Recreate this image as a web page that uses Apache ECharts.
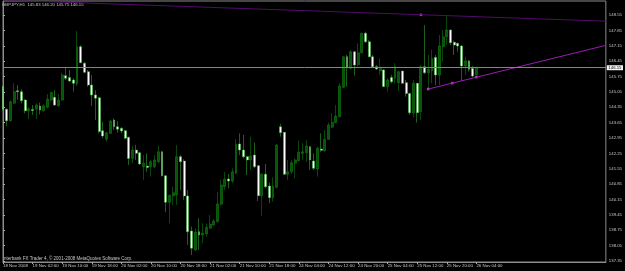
<!DOCTYPE html>
<html><head><meta charset="utf-8">
<script src="https://cdn.jsdelivr.net/npm/echarts@6/dist/echarts.min.js"></script>
<style>html,body{margin:0;padding:0;background:#000;}#c{width:625px;height:271px;}</style>
</head><body><div id="c"></div>
<script>
const symbolName = 'GBPJPY,H1';
const opens = [145.29,144.26,143.74,144.53,145.10,145.06,144.68,144.19,144.25,144.26,
144.41,144.19,144.35,144.68,144.80,144.42,144.68,145.79,145.70,145.59,
145.41,147.11,146.35,145.97,145.36,144.91,144.78,143.28,142.89,143.16,
143.77,143.46,143.39,143.28,142.98,142.02,142.40,142.28,141.64,141.67,
141.64,141.64,141.87,142.32,141.23,140.02,140.31,140.35,142.10,141.90,
140.31,138.71,137.85,138.68,138.53,138.58,138.84,138.99,139.14,139.93,
140.73,141.08,140.99,141.34,142.68,142.40,142.10,141.95,142.17,141.69,
140.32,141.30,140.76,140.23,140.70,143.46,143.21,141.30,141.41,141.80,
141.92,142.25,142.28,142.55,141.90,141.54,142.45,142.37,142.89,143.44,
143.65,143.92,145.26,146.65,146.12,146.88,146.30,146.83,147.72,147.33,
146.65,146.20,146.00,146.05,145.29,145.71,145.67,145.47,146.00,145.47,
144.98,144.10,145.44,144.15,146.20,145.92,146.01,146.62,145.82,147.11,
147.56,147.87,147.31,147.26,147.14,146.23,146.46,146.12,145.83];
const highs = [145.32,144.29,144.66,145.44,145.36,145.17,144.72,144.35,144.45,144.53,
144.56,144.48,144.95,145.06,145.13,144.95,145.91,146.20,146.05,145.67,
147.82,147.18,146.42,146.05,145.82,145.13,144.82,143.69,143.22,143.77,
143.85,143.72,143.44,143.31,143.01,142.58,142.63,142.31,142.17,142.25,
141.95,142.17,142.60,142.36,141.26,140.38,140.73,142.63,142.17,141.98,
140.58,138.91,138.84,139.29,139.06,139.06,139.44,139.25,140.48,141.04,
141.41,141.31,141.57,142.90,143.16,143.09,142.13,143.01,142.74,141.72,
141.34,141.77,140.91,141.16,142.68,143.59,143.22,141.95,141.95,142.02,
142.83,142.71,142.86,142.58,142.25,142.55,143.16,143.31,143.65,144.07,
144.45,145.44,146.68,146.73,146.96,146.92,147.26,147.74,147.79,147.41,
146.73,146.27,146.58,146.08,145.67,145.82,146.35,146.01,146.01,145.59,
145.01,145.59,145.45,146.27,148.09,146.73,146.96,146.73,147.64,147.87,
148.55,147.90,147.38,147.29,147.18,146.65,146.50,146.23,146.20];
const lows = [144.20,143.50,143.70,144.50,144.68,144.53,144.07,143.80,144.00,143.81,
144.03,144.15,144.30,144.60,144.41,144.37,144.65,145.59,145.51,145.06,
145.32,146.35,145.90,145.29,144.41,143.77,143.16,142.94,142.78,143.13,
143.31,143.19,143.16,142.90,141.72,141.80,141.95,141.72,141.04,141.41,
141.19,141.57,141.80,141.19,139.57,139.06,139.90,139.90,140.58,140.13,
138.08,137.62,137.80,137.85,138.15,138.45,138.79,138.94,139.09,139.87,
140.58,140.66,140.89,141.31,142.17,142.02,141.26,141.49,141.57,140.08,
139.41,140.66,139.98,140.05,140.66,143.01,141.26,141.04,141.31,141.11,
141.87,141.95,141.87,141.49,141.49,141.19,142.32,142.32,142.86,143.39,
143.62,143.89,145.21,145.29,146.09,145.79,146.20,146.81,147.29,146.62,
146.17,146.05,145.82,145.26,145.06,145.44,145.44,145.10,145.41,144.83,
144.00,143.89,143.65,143.77,145.86,145.18,145.44,145.36,145.36,146.42,
147.18,147.18,146.73,146.88,145.54,145.82,145.97,145.71,145.75];
const closes = [144.26,143.74,144.60,145.06,145.06,144.65,144.19,144.28,144.20,144.45,
144.22,144.41,144.72,145.02,144.45,144.68,145.82,145.67,145.54,145.44,
147.11,146.38,145.94,145.36,144.91,144.76,143.24,143.04,143.19,143.72,
143.46,143.35,143.27,142.94,142.02,142.40,142.25,141.77,141.80,141.61,
141.87,141.95,142.32,141.23,140.02,140.33,140.46,142.10,141.87,140.31,
138.68,137.93,138.65,138.53,138.61,138.88,139.03,139.17,139.94,140.81,
141.07,140.99,141.41,142.66,142.40,142.10,141.95,142.13,141.64,140.32,
141.30,140.73,140.23,140.76,142.63,143.19,141.30,141.41,141.82,141.95,
142.30,142.32,142.58,141.95,141.57,142.48,142.39,142.89,143.54,143.66,
143.95,145.32,146.65,146.15,146.88,146.27,146.83,147.72,147.33,146.65,
146.20,146.09,146.12,145.29,145.59,145.51,146.20,145.97,145.44,144.98,
144.10,145.44,144.10,146.20,145.92,146.08,146.58,145.82,147.14,147.56,
147.87,147.29,147.18,147.14,146.23,146.46,146.08,145.77,146.15];
const futureBars = 35;
const labelStep = 8;
const timeLabels = ['18 Nov 2008','19 Nov 02:00','19 Nov 10:00','19 Nov 18:00','20 Nov 02:00','20 Nov 10:00','20 Nov 18:00','21 Nov 02:00','21 Nov 10:00','21 Nov 18:00','24 Nov 04:00','24 Nov 12:00','24 Nov 20:00','25 Nov 04:00','25 Nov 12:00','25 Nov 20:00','26 Nov 04:00'];
const priceTicks = [148.55,147.85,147.15,146.45,145.75,145.05,144.35,143.65,142.95,142.25,141.55,140.85,140.15,139.45,138.75,138.05,137.35];
const bidPrice = 146.15;
const upperTrend = [[0,149.23],[163,148.27]];
const upperDots = [[113,148.56]];
const lowerTrend = [[115,145.18],[163,147.17]];
const lowerDots = [[115,145.18],[121.5,145.45],[128,145.72]];
const copyright = 'Interbank FX Trader 4, \u00A9 2001-2008 MetaQuotes Software Corp.';

const nBars = opens.length;
const totalSlots = nBars + futureBars;
const categories = Array.from({length: totalSlots}, (_, i) => String(i));
const ohlc = opens.map((o, i) => [o, closes[i], lows[i], highs[i]]);
const last = nBars - 1;
const headerText = symbolName + '  ' + opens[last].toFixed(2) + ' ' + highs[last].toFixed(2) + ' ' + lows[last].toFixed(2) + ' ' + closes[last].toFixed(2);
const isLabelIdx = i => i % labelStep === 0 && i / labelStep < timeLabels.length;
const font = 'Liberation Sans';
const fg = '#c8c8c8';
const frame = '#8c8c8c';

const chart = echarts.init(document.getElementById('c'), null, {renderer: 'canvas', width: 625, height: 271});
chart.setOption({
  backgroundColor: '#000000',
  animation: false,
  grid: {left: 1, top: 1, right: 17, bottom: 9, show: true, borderColor: frame, borderWidth: 1, backgroundColor: 'transparent'},
  xAxis: [
    {type: 'category', data: categories, boundaryGap: false,
     axisLine: {show: true, lineStyle: {color: frame, width: 1}},
     axisTick: {show: true, interval: (i) => isLabelIdx(i), length: 2, lineStyle: {color: '#aaaaaa'}},
     axisLabel: {interval: (i) => isLabelIdx(i), formatter: (v, i) => isLabelIdx(i) ? timeLabels[i / labelStep] : '',
       align: 'left', margin: 2, fontSize: 4.4, color: fg, fontFamily: font},
     splitLine: {show: false}},
    {type: 'value', min: 0, max: totalSlots - 1, show: false, splitLine: {show: false}}
  ],
  yAxis: {type: 'value', position: 'right', min: 137.30, max: 149.19, scale: true,
    axisLine: {show: true, lineStyle: {color: frame, width: 1}},
    axisTick: {show: true, customValues: priceTicks, length: 2, lineStyle: {color: '#aaaaaa'}},
    axisLabel: {customValues: priceTicks, formatter: v => Number(v).toFixed(2), margin: 3, fontSize: 4.3, color: fg, fontFamily: font},
    splitLine: {show: false}},
  series: [
    {type: 'candlestick', name: symbolName, xAxisIndex: 0, yAxisIndex: 0, data: ohlc, barWidth: 2.4,
     itemStyle: {color: '#08530a', borderColor: '#138d15', color0: '#ffffff', borderColor0: '#36c036', borderWidth: 0.5},
     markLine: {silent: true, symbol: ['none', 'none'],
       lineStyle: {color: '#7d8590', width: 1, type: 'solid'},
       label: {show: true, position: 'end', formatter: () => bidPrice.toFixed(2), backgroundColor: '#f4f4f4', color: '#000',
         fontSize: 4.3, fontFamily: font, padding: [0.5, 1.5], distance: 1},
       data: [{yAxis: bidPrice}]}},
    {type: 'line', xAxisIndex: 1, yAxisIndex: 0, data: upperTrend, symbol: 'none', lineStyle: {color: '#520c6a', width: 1}, silent: true},
    {type: 'line', xAxisIndex: 1, yAxisIndex: 0, data: lowerTrend, symbol: 'none', lineStyle: {color: '#9a1cb4', width: 1}, silent: true},
    {type: 'scatter', xAxisIndex: 1, yAxisIndex: 0, data: upperDots.concat(lowerDots), symbol: 'rect', symbolSize: 2.5,
     itemStyle: {color: '#ff44ff'}, silent: true}
  ],
  graphic: [
    {type: 'text', left: 2, top: 2.4, silent: true, style: {text: headerText, fontSize: 4.3, fill: fg, fontFamily: font}},
    {type: 'text', left: 2.7, top: 256.4, silent: true, style: {text: copyright, fontSize: 4.5, fill: fg, fontFamily: font}}
  ]
});
</script></body></html>
